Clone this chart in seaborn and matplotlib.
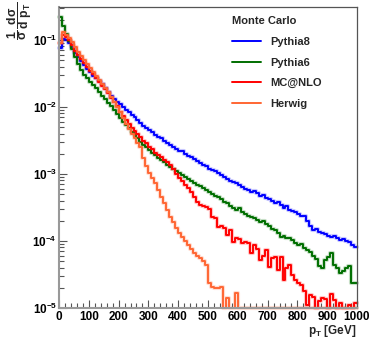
import numpy as np
import pandas as pd
import matplotlib
matplotlib.use("Agg")
import matplotlib.pyplot as plt
import matplotlib.patheffects as pe
from matplotlib.lines import Line2D
from matplotlib.ticker import LogLocator, MultipleLocator, NullFormatter
import seaborn as sns

# ---------------- data ----------------
bin_edges_gev = list(range(0, 1001, 10))          # 100 bins of 10 GeV
generators = ["Pythia8", "Pythia6", "MC@NLO", "Herwig"]
legend_title = "Monte Carlo"

# log10 of (1/sigma dsigma/dpT) per bin; None = empty bin
pythia8_log10 = [
    -1.12, -0.99, -1.00, -1.05, -1.11, -1.19, -1.26, -1.32, -1.38, -1.43,
    -1.48, -1.53, -1.57, -1.61, -1.66, -1.72, -1.77, -1.83, -1.88, -1.92,
    -1.96, -2.00, -2.04, -2.08, -2.12, -2.15, -2.20, -2.24, -2.28, -2.31,
    -2.34, -2.38, -2.42, -2.45, -2.47, -2.51, -2.54, -2.57, -2.60, -2.62,
    -2.65, -2.66, -2.70, -2.73, -2.75, -2.78, -2.80, -2.84, -2.86, -2.88,
    -2.92, -2.94, -2.96, -2.98, -3.02, -3.04, -3.07, -3.10, -3.12, -3.13,
    -3.17, -3.19, -3.22, -3.24, -3.27, -3.26, -3.29, -3.33, -3.31, -3.36,
    -3.38, -3.40, -3.43, -3.42, -3.46, -3.50, -3.48, -3.53, -3.55, -3.57,
    -3.60, -3.63, -3.62, -3.70, -3.78, -3.84, -3.82, -3.86, -3.88, -3.90,
    -3.92, -3.94, -3.93, -3.96, -3.98, -3.97, -4.00, -4.02, -4.06, -4.09,
]
pythia6_log10 = [
    -0.66, -0.79, -0.91, -1.02, -1.13, -1.26, -1.36, -1.45, -1.52, -1.57,
    -1.62, -1.67, -1.72, -1.78, -1.83, -1.88, -1.94, -1.99, -2.05, -2.10,
    -2.16, -2.22, -2.27, -2.32, -2.37, -2.42, -2.47, -2.52, -2.56, -2.60,
    -2.64, -2.68, -2.72, -2.76, -2.79, -2.82, -2.86, -2.89, -2.92, -2.96,
    -2.99, -3.02, -3.05, -3.07, -3.10, -3.13, -3.16, -3.18, -3.21, -3.24,
    -3.27, -3.30, -3.33, -3.34, -3.38, -3.42, -3.44, -3.48, -3.50, -3.53,
    -3.51, -3.57, -3.60, -3.62, -3.64, -3.66, -3.69, -3.72, -3.70, -3.74,
    -3.78, -3.82, -3.84, -3.88, -3.94, -3.93, -3.96, -3.95, -3.99, -4.03,
    -4.06, -4.05, -4.10, -4.13, -4.16, -4.22, -4.27, -4.38, -4.41, -4.28,
    -4.24, -4.18, -4.36, -4.40, -4.48, -4.45, -4.41, -4.38, -4.63, -4.63,
]
mcatnlo_log10 = [
    -1.04, -0.92, -0.95, -1.00, -1.07, -1.16, -1.23, -1.29, -1.35, -1.40,
    -1.46, -1.51, -1.56, -1.62, -1.68, -1.73, -1.79, -1.86, -1.93, -1.99,
    -2.08, -2.14, -2.20, -2.26, -2.31, -2.36, -2.41, -2.45, -2.50, -2.54,
    -2.60, -2.63, -2.68, -2.71, -2.74, -2.79, -2.82, -2.87, -2.93, -3.00,
    -3.06, -3.11, -3.16, -3.21, -3.27, -3.34, -3.42, -3.47, -3.48, -3.49,
    -3.52, -3.64, -3.66, -3.79, -3.78, -3.80, -3.91, -3.84, -4.01, -3.95,
    -3.97, -4.03, -4.02, -4.03, -4.18, -4.06, -4.12, -4.28, -4.22, -4.13,
    -4.39, -4.26, -4.24, -4.43, -4.24, -4.58, -4.40, -4.36, -4.50, -4.58,
    -4.62, -4.66, -4.75, -4.95, -4.80, -4.83, None, -4.90, -4.85, -4.86,
    None, -4.79, -4.88, None, -4.93, None, None, -4.95, None, -4.93,
]
herwig_log10 = [
    -1.04, -0.88, -0.92, -0.97, -1.03, -1.11, -1.18, -1.24, -1.30, -1.36,
    -1.42, -1.48, -1.54, -1.60, -1.66, -1.72, -1.78, -1.85, -1.92, -2.00,
    -2.07, -2.16, -2.25, -2.33, -2.40, -2.47, -2.54, -2.60, -2.76, -2.88,
    -2.98, -3.06, -3.14, -3.24, -3.34, -3.44, -3.54, -3.64, -3.72, -3.80,
    -3.88, -3.94, -4.00, -4.06, -4.12, -4.18, -4.22, -4.26, -4.30, -4.36,
    -4.63, -4.68, -4.70, -4.70, -4.69, None, -4.85, None, None, -4.78,
    None, None, None, None, None, None, None, None, None, None,
    None, None, None, None, None, None, None, None, None, None,
    None, None, None, None, None, None, None, None, None, None,
    None, None, None, None, None, None, None, None, None, None,
]

x_ticks_gev = [0, 100, 200, 300, 400, 500, 600, 700, 800, 900, 1000]
x_tick_labels = ["0", "100", "200", "300", "400", "500", "600", "700", "800", "900", "1000"]

# ---------------- style ----------------
colors = {"Pythia8": "#0000ff", "Pythia6": "#006e00",
          "MC@NLO": "#ff0000", "Herwig": "#ff6633"}
series = {"Pythia8": pythia8_log10, "Pythia6": pythia6_log10,
          "MC@NLO": mcatnlo_log10, "Herwig": herwig_log10}

sns.set_theme(style="ticks")
plt.rcParams["font.family"] = ["Liberation Sans", "DejaVu Sans"]
plt.rcParams["font.weight"] = "bold"
plt.rcParams["mathtext.fontset"] = "custom"
plt.rcParams["mathtext.rm"] = "Liberation Sans:bold"
plt.rcParams["mathtext.it"] = "Liberation Sans:bold"
plt.rcParams["mathtext.bf"] = "Liberation Sans:bold"
plt.rcParams["mathtext.sf"] = "Liberation Sans:bold"
plt.rcParams["mathtext.default"] = "rm"

W, H = 374, 338
fig = plt.figure(figsize=(W / 100, H / 100), dpi=100, facecolor="white")
ax_l, ax_r, ax_t, ax_b = 59, 357, 7, 308
ax = fig.add_axes([ax_l / W, 1 - ax_b / H, (ax_r - ax_l) / W, (ax_b - ax_t) / H])
ax.set_facecolor("white")

ymin = 1e-5
ymax = 10 ** (-5 + (ax_b - ax_t) / 67.0)

rows = []
for name in generators:
    vals = [0.0 if v is None else 10.0 ** v for v in series[name]]
    vals = vals + [vals[-1]]
    for e, v in zip(bin_edges_gev, vals):
        rows.append({"pT": e, "density": max(v, ymin), "generator": name})
df = pd.DataFrame(rows)

ax.set_yscale("log")
sns.lineplot(data=df, x="pT", y="density", hue="generator", hue_order=generators,
             palette=colors, drawstyle="steps-post", estimator=None, sort=False,
             linewidth=1.4, legend=False, ax=ax)
for line in ax.lines:
    c = line.get_color()
    line.set_path_effects([pe.Stroke(linewidth=3.0, foreground=c, alpha=0.22), pe.Normal()])
    line.set_clip_on(False)

ax.set_xlim(0, 1000)
ax.set_ylim(ymin, ymax)

ax.set_xticks(x_ticks_gev, labels=x_tick_labels)
ax.xaxis.set_minor_locator(MultipleLocator(20))
ax.yaxis.set_major_locator(LogLocator(base=10, numticks=10))
ax.yaxis.set_minor_locator(LogLocator(base=10, subs=np.arange(2, 10), numticks=20))
ax.yaxis.set_minor_formatter(NullFormatter())

ax.tick_params(which="both", direction="in", top=False, right=False,
               color="#555555", labelcolor="black", labelsize=8.5)
ax.tick_params(which="major", length=6, width=0.8)
ax.tick_params(which="minor", length=3.5, width=0.8)
ax.tick_params(axis="y", pad=1.5)
ax.tick_params(axis="x", pad=2.5)

for s in ["left", "bottom"]:
    ax.spines[s].set_color("#999999")
    ax.spines[s].set_linewidth(1.5)
for s in ["top", "right"]:
    ax.spines[s].set_color("#555555")
    ax.spines[s].set_linewidth(0.9)

ax.set_xlabel(r"$p_{T}$ [GeV]", loc="right", fontsize=8.5, labelpad=0.0, fontweight="bold")
ax.set_ylabel("")
fig.text(20 / W, 1 - 2 / H, r"$\dfrac{1}{\sigma}\,\dfrac{d\sigma}{d\ p_{T}}$",
         rotation=90, ha="center", va="top", fontsize=8.8)

handles = [Line2D([], [], color=colors[g], lw=1.4) for g in generators]
leg = ax.legend(handles, generators, title=legend_title, loc="upper left",
                bbox_to_anchor=(232 / W, 1 - 16.5 / H), bbox_transform=fig.transFigure,
                frameon=False, fontsize=8, handlelength=2.6, handletextpad=0.8,
                labelspacing=0.95, borderpad=0, borderaxespad=0, alignment="left",
                title_fontproperties={"weight": "bold", "size": 8})

fig.savefig("out.png", dpi=100, facecolor="white")
